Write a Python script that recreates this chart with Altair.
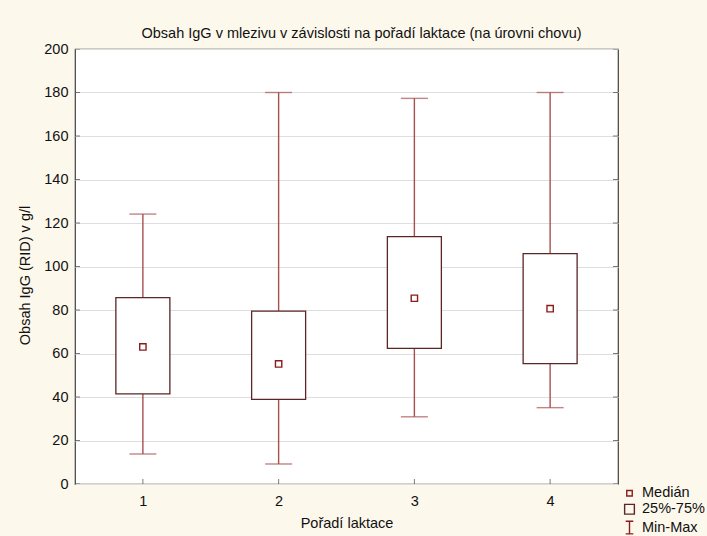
import altair as alt
import pandas as pd

# --- data ---
lactation = [1, 2, 3, 4]
minimum = [13.8, 9.2, 30.9, 35.1]
q25 = [41.4, 38.9, 62.4, 55.3]
median = [63.0, 55.2, 85.4, 80.6]
q75 = [85.7, 79.5, 113.7, 105.9]
maximum = [124.1, 180.0, 177.3, 180.0]

y_ticks = [0, 20, 40, 60, 80, 100, 120, 140, 160, 180, 200]
x_ticks = [1, 2, 3, 4]
legend_items = ["Medián", "25%-75%", "Min-Max"]

df = pd.DataFrame({"lak": lactation, "mn": minimum, "q1": q25,
                   "med": median, "q3": q75, "mx": maximum})
ydf = pd.DataFrame({"t": y_ticks})
xdf = pd.DataFrame({"t": x_ticks})
ldf = pd.DataFrame({"item": legend_items})

FONT = "Liberation Sans"
FS = 14.5
WHISK = "#a85050"
BOXC = "#5a2626"
MEDC = "#8b1c1c"

xscale = alt.Scale(domain=[0.5, 4.5], nice=False, zero=False, padding=0)
yscale = alt.Scale(domain=[0, 200], nice=False)

xenc = alt.X("lak:Q", scale=xscale,
             axis=alt.Axis(values=x_ticks, format="d", title="Pořadí laktace",
                           grid=False, ticks=False, domain=False, labelPadding=10,
                           titlePadding=9))
yenc_axis = alt.Axis(values=y_ticks, title="Obsah IgG (RID) v g/l", grid=True,
                     ticks=False, domain=False, labelPadding=7, titlePadding=11,
                     titleY=226)

base = alt.Chart(df)

whisker = base.mark_rule(color=WHISK, strokeWidth=1.4).encode(
    x=xenc,
    y=alt.Y("mn:Q", scale=yscale, axis=yenc_axis),
    y2="mx:Q",
)
caps_lo = base.mark_tick(color=WHISK, size=27, thickness=1.4, orient="horizontal").encode(
    x=alt.X("lak:Q", scale=xscale), y=alt.Y("mn:Q", scale=yscale))
caps_hi = base.mark_tick(color=WHISK, size=27, thickness=1.4, orient="horizontal").encode(
    x=alt.X("lak:Q", scale=xscale), y=alt.Y("mx:Q", scale=yscale))
box = base.mark_bar(size=54, fill="white", stroke=BOXC, strokeWidth=1.3).encode(
    x=alt.X("lak:Q", scale=xscale), y=alt.Y("q1:Q", scale=yscale), y2="q3:Q")
med = base.mark_square(size=40, fill="white", stroke=MEDC, strokeWidth=1.4,
                       filled=False, opacity=1).encode(
    x=alt.X("lak:Q", scale=xscale), y=alt.Y("med:Q", scale=yscale))

# inner tick marks on the frame
ytick_l = alt.Chart(ydf).mark_tick(color="#444", size=10, thickness=1, orient="horizontal",
                                   clip=True).encode(
    x=alt.value(0), y=alt.Y("t:Q", scale=yscale))
ytick_r = alt.Chart(ydf).mark_tick(color="#444", size=10, thickness=1, orient="horizontal",
                                   clip=True).encode(
    x=alt.value(543), y=alt.Y("t:Q", scale=yscale))
xtick_b = alt.Chart(xdf).mark_tick(color="#444", size=10, thickness=1, orient="vertical",
                                   clip=True).encode(
    x=alt.X("t:Q", scale=xscale), y=alt.value(435))

legend = alt.Chart(ldf).mark_point(opacity=0, strokeWidth=1.3).encode(
    x=alt.value(10), y=alt.value(10),
    shape=alt.Shape("item:N", scale=alt.Scale(
        domain=legend_items,
        range=["square", "square", "M-0.6,-1H0.6M0,-1V1M-0.6,1H0.6"]),
        legend=alt.Legend(orient="none", legendX=547, legendY=437, title=None,
                          labelFont=FONT, labelFontSize=FS, labelColor="#111",
                          symbolOpacity=1, symbolFillColor="white",
                          symbolStrokeWidth=1.4, rowPadding=1, labelOffset=5,
                          padding=0)),
    size=alt.Size("item:N", scale=alt.Scale(domain=legend_items, range=[30, 160, 180])),
    stroke=alt.Stroke("item:N", scale=alt.Scale(domain=legend_items,
                                                range=[MEDC, BOXC, MEDC])),
)

chart = alt.layer(whisker, caps_lo, caps_hi, box, med, ytick_l, ytick_r, xtick_b,
                  legend).properties(
    width=543, height=435,
    title=alt.Title("Obsah IgG v mlezivu v závislosti na pořadí laktace (na úrovni chovu)",
                    font=FONT, fontSize=FS, fontWeight="normal", color="#111",
                    anchor="middle", dx=15, offset=0),
    background="#fdf8ec",
    padding={"left": 75, "top": 49, "right": 89, "bottom": 52},
    autosize=alt.AutoSizeParams(type="none"),
).configure_view(
    fill="white", stroke="#404040", strokeWidth=1.2
).configure_axis(
    labelFont=FONT, titleFont=FONT, labelFontSize=FS, titleFontSize=FS,
    labelColor="#111", titleColor="#111", titleFontWeight="normal",
    gridColor="#dedede", gridWidth=1
)

chart.save("out.html", embed_options={"renderer": "svg", "actions": False})
